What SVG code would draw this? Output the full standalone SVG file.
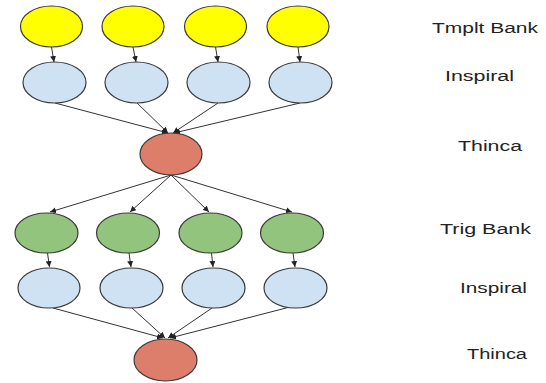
<svg xmlns="http://www.w3.org/2000/svg" width="546" height="383" viewBox="0 0 546 383">
<style>
.n{stroke:#3a3a3a;stroke-width:1.2}
.y{fill:#ffff00}
.b{fill:#cfe2f3}
.r{fill:#dd7e6b}
.g{fill:#93c47d}
.e{stroke:#333;stroke-width:1;fill:none;marker-end:url(#ah)}
.t{font-family:"Liberation Sans",Arial,sans-serif;font-size:14px;fill:#222}
</style>
<defs>
<marker id="ah" markerUnits="userSpaceOnUse" markerWidth="7" markerHeight="6" refX="6" refY="3" orient="auto">
<path d="M0,0 L6,3 L0,6 z" fill="#222"/>
</marker>
</defs>
<rect width="546" height="383" fill="#fff"/>
<g id="connectors">
<line class="e" x1="51.5" y1="47" x2="54" y2="62"/>
<line class="e" x1="133" y1="47" x2="136" y2="62"/>
<line class="e" x1="215.5" y1="47" x2="218" y2="62"/>
<line class="e" x1="298" y1="47" x2="300" y2="62"/>
<line class="e" x1="55" y1="103" x2="168" y2="133"/>
<line class="e" x1="137" y1="103" x2="168" y2="133"/>
<line class="e" x1="218" y1="103" x2="173" y2="133"/>
<line class="e" x1="300" y1="103" x2="174" y2="133"/>
<line class="e" x1="171" y1="175" x2="50" y2="212"/>
<line class="e" x1="171" y1="175" x2="130" y2="212"/>
<line class="e" x1="171" y1="175" x2="209" y2="212"/>
<line class="e" x1="171" y1="175" x2="292" y2="212"/>
<line class="e" x1="47.5" y1="253" x2="49.5" y2="267"/>
<line class="e" x1="129" y1="253" x2="131" y2="267"/>
<line class="e" x1="211.5" y1="253" x2="213" y2="267"/>
<line class="e" x1="293" y1="253" x2="295" y2="267"/>
<line class="e" x1="53" y1="308" x2="163" y2="338"/>
<line class="e" x1="132" y1="308" x2="165" y2="338"/>
<line class="e" x1="212" y1="308" x2="168" y2="338"/>
<line class="e" x1="290" y1="307" x2="170" y2="338"/>
</g>
<g id="tmplt1"><ellipse class="n y" cx="51.5" cy="26.5" rx="31" ry="20.5"/></g>
<g id="tmplt2"><ellipse class="n y" cx="133" cy="26.5" rx="31" ry="20.5"/></g>
<g id="tmplt3"><ellipse class="n y" cx="215.5" cy="26.5" rx="31" ry="20.5"/></g>
<g id="tmplt4"><ellipse class="n y" cx="298" cy="26.5" rx="31" ry="20.5"/></g>
<g id="insp1a"><ellipse class="n b" cx="54.5" cy="82.5" rx="31.5" ry="20.5"/></g>
<g id="insp1b"><ellipse class="n b" cx="136.5" cy="82.5" rx="31.5" ry="20.5"/></g>
<g id="insp1c"><ellipse class="n b" cx="218.5" cy="82.5" rx="31.5" ry="20.5"/></g>
<g id="insp1d"><ellipse class="n b" cx="300.5" cy="82.5" rx="31.5" ry="20.5"/></g>
<g id="thinca1"><ellipse class="n r" cx="171" cy="154" rx="31" ry="21"/></g>
<g id="trig1"><ellipse class="n g" cx="46.5" cy="233" rx="31.5" ry="20"/></g>
<g id="trig2"><ellipse class="n g" cx="128" cy="233" rx="31.5" ry="20"/></g>
<g id="trig3"><ellipse class="n g" cx="210.5" cy="233" rx="31.5" ry="20"/></g>
<g id="trig4"><ellipse class="n g" cx="292" cy="233" rx="31.5" ry="20"/></g>
<g id="insp2a"><ellipse class="n b" cx="49" cy="288" rx="31" ry="20"/></g>
<g id="insp2b"><ellipse class="n b" cx="131.5" cy="288" rx="31.5" ry="20"/></g>
<g id="insp2c"><ellipse class="n b" cx="213.5" cy="288" rx="31.5" ry="20"/></g>
<g id="insp2d"><ellipse class="n b" cx="295.5" cy="288" rx="31.5" ry="20"/></g>
<g id="thinca2"><ellipse class="n r" cx="165.5" cy="360" rx="31.5" ry="21"/></g>
<g id="labels">
<text class="t" x="432" y="33" textLength="106" lengthAdjust="spacingAndGlyphs">Tmplt Bank</text>
<text class="t" x="445" y="81" textLength="69" lengthAdjust="spacingAndGlyphs">Inspiral</text>
<text class="t" x="458" y="151" textLength="64" lengthAdjust="spacingAndGlyphs">Thinca</text>
<text class="t" x="440" y="234" textLength="91" lengthAdjust="spacingAndGlyphs">Trig Bank</text>
<text class="t" x="460" y="293" textLength="67" lengthAdjust="spacingAndGlyphs">Inspiral</text>
<text class="t" x="467" y="359" textLength="60" lengthAdjust="spacingAndGlyphs">Thinca</text>
</g>
</svg>
